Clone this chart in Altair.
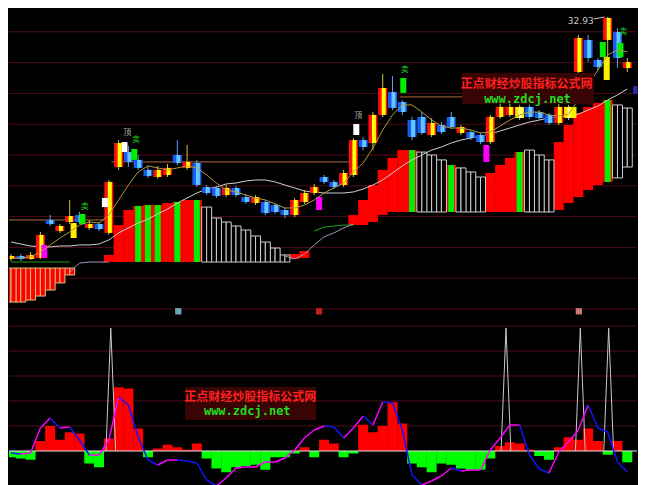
import altair as alt
import pandas as pd

N = 64
bars = list(range(N))

# ---------- top panel: candles (price) ----------
open_ = [17.25,17.44,17.25,17.31,19.78,19.06,19.65,20.10,19.26,19.52,
         18.94,23.22,24.19,23.68,23.03,22.57,22.70,24.00,23.16,23.48,
         21.92,21.86,21.40,21.86,21.27,20.88,20.95,20.75,20.43,20.10,
         20.95,21.53,22.57,22.25,22.05,22.70,24.97,24.78,26.60,28.09,
         27.44,26.27,26.47,25.30,25.95,26.47,25.43,25.49,25.30,24.84,
         26.47,26.60,27.12,27.12,26.79,26.60,26.08,27.12,29.39,31.47,
         30.17,31.47,31.99,29.65]
close_ = [17.44,17.25,17.51,18.81,19.52,19.39,20.04,19.65,19.52,19.19,
          22.25,24.78,23.55,23.16,22.64,23.03,23.16,23.48,23.55,22.05,
          21.53,21.34,21.86,21.40,20.95,21.27,20.23,20.30,20.10,21.08,
          21.53,21.92,22.25,21.92,22.83,24.97,24.52,26.60,28.35,27.05,
          26.79,25.17,25.43,26.08,25.49,25.82,25.82,25.10,24.84,26.47,
          27.12,27.12,26.40,26.47,26.40,26.08,27.12,26.40,31.60,30.30,
          29.71,32.90,30.30,30.04]
high_ = [17.57,17.57,17.70,19.00,20.10,19.52,21.08,20.30,19.78,19.65,
         22.38,24.97,24.60,24.00,23.29,23.29,23.42,24.97,24.65,23.68,
         22.05,21.99,22.05,21.99,21.47,21.40,21.08,20.88,20.56,21.21,
         21.73,22.12,22.70,22.38,23.03,25.10,25.17,26.79,29.26,29.13,
         27.57,26.47,26.79,26.40,26.14,26.79,25.95,25.62,25.43,26.60,
         27.31,27.31,27.25,27.25,26.92,26.73,27.31,27.25,31.79,31.79,
         30.30,32.96,32.25,30.30]
low_ = [17.12,17.12,17.18,17.25,19.39,18.94,19.52,19.52,19.13,19.06,
        18.81,23.03,23.22,23.03,22.51,22.45,22.57,23.35,23.03,21.92,
        21.40,21.21,21.27,21.27,20.82,20.75,20.10,20.17,19.91,19.97,
        20.82,21.40,22.12,21.79,21.92,22.57,24.32,24.32,26.47,26.92,
        26.60,24.97,25.30,25.17,25.36,25.69,25.30,24.97,24.71,24.71,
        26.34,26.47,26.27,26.34,26.27,25.95,25.95,26.27,29.26,30.04,
        29.52,30.30,29.65,29.39]
kind = ["u","d","u","u","d","u","u","d","u","d",
        "u","u","d","d","d","u","u","d","u","d",
        "d","d","u","d","d","u","d","d","d","u",
        "u","u","d","d","u","u","d","u","u","d",
        "d","d","d","u","d","d","u","d","d","u",
        "u","u","y","d","d","d","u","y","u","d",
        "d","u","d","u"]

# special marker candles: bar position, top, bottom, colour
spec_b = [3.4, 6.4, 7.3, 9.6, 11.6, 12.6, 31.5, 35.3, 40.1, 48.6, 57.5, 60.5, 60.9, 62.3]
spec_top = [18.16, 19.58, 20.17, 21.21, 24.84, 24.39, 21.27, 26.01, 29.00, 24.65, 27.12, 31.34, 30.36, 31.27]
spec_bot = [17.31, 18.61, 19.52, 20.62, 24.19, 23.68, 20.43, 25.30, 28.03, 23.55, 26.40, 30.36, 28.87, 30.36]
spec_col = ["#ff00ff", "#ffee00", "#00ee00", "#ffffff", "#ffffff", "#00ee00", "#ff00ff",
            "#ffffff", "#00ee00", "#ff00ff", "#ffee00", "#00ee00", "#ffee00", "#00ee00"]

ma_long = [18.35,18.22,18.09,18.03,18.03,18.09,18.09,18.16,18.16,18.22,
           18.48,18.94,19.26,19.58,19.84,20.17,20.49,20.88,21.21,21.53,
           21.79,21.92,22.12,22.18,22.31,22.38,22.38,22.25,22.05,21.86,
           21.66,21.60,21.53,21.53,21.53,21.60,21.79,22.05,22.38,22.83,
           23.29,23.68,24.00,24.32,24.52,24.78,24.97,25.10,25.23,25.36,
           25.56,25.75,25.95,26.14,26.27,26.40,26.47,26.53,26.66,26.92,
           27.18,27.57,27.90,28.29]
ma_short = [17.31,17.31,17.38,17.70,18.16,18.61,19.00,19.45,19.65,19.58,
            20.10,21.08,22.05,22.90,23.29,23.16,23.03,23.16,23.29,23.16,
            22.70,22.18,21.73,21.60,21.40,21.21,21.08,20.82,20.56,20.56,
            20.75,21.08,21.53,21.86,22.18,22.90,23.48,24.45,25.62,26.60,
            27.25,27.25,26.79,26.27,25.88,25.75,25.75,25.62,25.43,25.49,
            25.88,26.27,26.60,26.79,26.79,26.60,26.53,26.66,27.57,28.55,
            29.52,30.49,30.82,30.69]

# stepped band (bars between two levels)
band_top = [16.66,16.66,16.66,16.66,16.66,16.66,16.66,None,None,None,
            17.51,19.45,20.43,20.69,20.75,20.75,20.88,20.95,21.08,21.08,
            20.62,19.91,19.65,19.39,19.13,18.74,18.35,17.96,17.51,17.57,
            17.77,None,None,None,None,20.10,21.08,22.05,23.03,23.81,
            24.32,24.32,24.19,24.00,23.68,23.35,23.16,22.90,22.57,22.83,
            23.35,23.81,24.19,24.32,24.00,23.68,24.84,25.95,26.73,27.12,
            27.38,27.57,27.25,27.05]
band_bot = [14.45,14.45,14.58,14.84,15.23,15.69,16.21,None,None,None,
            17.05,17.05,17.05,17.05,17.05,17.05,17.05,17.05,17.05,17.05,
            17.05,17.05,17.05,17.05,17.05,17.05,17.05,17.05,17.05,17.25,
            17.31,None,None,None,None,19.45,19.45,19.65,20.10,20.30,
            20.30,20.30,20.30,20.30,20.30,20.30,20.30,20.30,20.30,20.30,
            20.30,20.30,20.30,20.30,20.30,20.30,20.43,20.88,21.27,21.73,
            22.05,22.25,22.51,23.22]
band_cls = ["A","A","A","A","A","A","A",None,None,None,
            "R","R","R","G","G","G","R","G","R","G",
            "W","W","W","W","W","W","W","W","W","R",
            "R",None,None,None,None,"R","R","R","R","R",
            "R","G","W","W","W","G","W","W","W","R",
            "R","R","G","W","W","W","R","R","R","R",
            "R","G","W","W"]
edge_green = [17.05,17.05,17.05,17.05,17.05,17.05,17.05,None,None,None,
              None,None,None,None,None,None,None,None,None,None,
              None,None,None,None,None,None,None,None,None,None,
              None,19.06,19.32,19.39,19.45,19.45] + [None] * 28
edge_gray = [None,None,None,None,None,None,16.40,16.98,17.05,17.05,
             17.05,None,None,None,None,None,None,None,None,None,
             None,None,None,None,None,None,None,None,17.44,17.25,
             17.57,18.16,18.68,18.94,19.26,19.52] + [None] * 28

support_p = [19.78, 23.55, 27.77]
support_from = [-0.5, 10.26, 39.74]
support_to = [9.56, 34.71, 46.28]

# small status icons at the foot of the price panel
icon_b = [17.1, 31.5, 58.05]
icon_p = [13.85, 13.85, 13.85]
icon_col = ["#6aa8b0", "#c02020", "#c07878"]

price_ticks = list(range(14, 34))
price_grid = [14, 16, 18, 20, 22, 24, 26, 28, 30, 32]

# ---------- bottom panel ----------
hist = [-5,-6,-7,8,20,9,15,14,-10,-13,
        10,51,50,18,-5,2,5,3,1,6,
        -6,-14,-17,-13,-12,-11,-15,-5,-5,-2,
        3,-5,9,6,-5,-2,21,15,20,39,
        22,-10,-13,-17,-10,-11,-14,-15,-15,-6,
        4,7,6,1,-4,-7,3,11,9,18,
        8,-3,8,-9]
osc = [-1.6,-2.4,-1.6,18.4,26.4,18.4,19.2,8.8,-3.2,-3.2,
       8.8,43.2,36.8,11.2,-7.2,-11.2,-7.2,-7.2,-8,-9.6,
       -23.2,-28,-21.6,-13.6,-12.8,-12.8,-8.8,-8.8,-5.6,0.8,
       10.4,16.8,20,19.2,10.4,18.4,28,20.8,39.2,38.4,
       16.8,-19.2,-27.2,-24,-20,-13.6,-16,-15.2,-15.2,0.8,
       10.4,20.8,20.8,-3.2,-14.4,-17.6,-0.8,7.2,16.8,36.8,
       18.4,15.2,-8.8,-16.8]
spike_pos = [10.2, 50.6, 58.2, 61.1]
spike_peak = [98.4, 98.4, 98.4, 98.4]
osc_ticks = [0, 20, 40, 60, 80, 100]
osc_grid = [20, 40, 60, 80, 100]

WM_CN = "正点财经炒股指标公式网"
WM_URL = "www.zdcj.net"

# ---------- scales ----------
X_DOM = [0.305, 63.484]
P_DOM = [13.545, 33.545]
V_DOM = [-27.2, 107.2]
W, TOP_H, BOT_H = 628, 308, 168
RED_AX = "#d00000"
GRID = "#4e0e14"

xsc = alt.Scale(domain=X_DOM, nice=False, zero=False)
psc = alt.Scale(domain=P_DOM, nice=False, zero=False)
vsc = alt.Scale(domain=V_DOM, nice=False, zero=False)


def X(f):
    return alt.X(f, scale=xsc, axis=None)


def P(f):
    return alt.Y(f, scale=psc, axis=None)


def V(f):
    return alt.Y(f, scale=vsc, axis=None)


def C(f):
    return alt.Color(f, scale=None)


right_axis_top = alt.Axis(orient="right", values=price_ticks, title=None, grid=False, labels=False,
                          domainColor=RED_AX, tickColor=RED_AX, tickSize=3)
right_axis_bot = alt.Axis(orient="right", values=osc_ticks, title=None, grid=False, labels=False,
                          domainColor=RED_AX, tickColor=RED_AX, tickSize=3)

# ---------- top panel layers ----------
grid_top = alt.Chart(pd.DataFrame({"p": price_grid})).mark_rule(color=GRID, strokeWidth=1).encode(
    y=alt.Y("p:Q", scale=psc, axis=right_axis_top))

band = pd.DataFrame({"i": bars, "t": band_top, "b": band_bot, "k": band_cls}).dropna()
band_red = alt.Chart(band[band.k.isin(["R", "G"])]).mark_bar(width=10, color="#ff0000", clip=True).encode(
    x=alt.X("i:Q", scale=xsc,
            axis=alt.Axis(orient="bottom", labels=False, ticks=False, grid=False, title=None,
                          domainColor=RED_AX)),
    y=P("t:Q"), y2="b:Q")
band_g = alt.Chart(band[band.k == "G"]).mark_bar(width=6, color="#00ee00", clip=True).encode(
    x=X("i:Q"), y=P("t:Q"), y2="b:Q")

sub_layers = []
for off in (-2.5, 2.5):
    sub_layers.append(
        alt.Chart(band[band.k == "A"]).mark_bar(width=5, xOffset=off, color="#ff0000", stroke="#d8c27a",
                                                strokeWidth=1, clip=True).encode(
            x=X("i:Q"), y=P("t:Q"), y2="b:Q"))
    sub_layers.append(
        alt.Chart(band[band.k == "W"]).mark_bar(width=5, xOffset=off, fill="#000000", stroke="#d0d0d0",
                                                strokeWidth=1, clip=True).encode(
            x=X("i:Q"), y=P("t:Q"), y2="b:Q"))


def runs(vals, name, col):
    rows = []
    seg = 0
    prev = False
    for i, v in enumerate(vals):
        if v is None:
            if prev:
                seg += 1
            prev = False
            continue
        rows.append({"i": i, "p": v, "g": f"{name}{seg}", "col": col})
        prev = True
    return rows


edges = pd.DataFrame(runs(edge_green, "green", "#1fa01f") + runs(edge_gray, "gray", "#9a9ab8"))
edge_lines = alt.Chart(edges).mark_line(strokeWidth=1, clip=True).encode(
    x=X("i:Q"), y=P("p:Q"), detail="g:N", color=C("col:N"))

sup = pd.DataFrame({"p": support_p, "a": support_from, "b": support_to})
support = alt.Chart(sup).mark_rule(color="#b0683a", strokeWidth=1, clip=True).encode(
    x=X("a:Q"), x2="b:Q", y=P("p:Q"))

OUTER = {"u": "#ff1010", "d": "#1a5af0", "y": "#ffe000"}
INNER = {"u": "#ffff00", "d": "#62c6ff", "y": "#ffff80"}
WICK = {"u": "#d8c040", "d": "#5a9cff", "y": "#d8c040"}
cd = pd.DataFrame({"i": bars, "o": open_, "c": close_, "h": high_, "l": low_,
                   "ma": ma_long, "ms": ma_short})
cd["oc"] = [OUTER[k] for k in kind]
cd["ic"] = [INNER[k] for k in kind]
cd["wc"] = [WICK[k] for k in kind]

ma_line = alt.Chart(cd).mark_line(color="#d0d0d0", strokeWidth=1, clip=True).encode(x=X("i:Q"), y=P("ma:Q"))
ms_line = alt.Chart(cd).mark_line(color="#b09a3c", strokeWidth=1, clip=True).encode(x=X("i:Q"), y=P("ms:Q"))

wick = alt.Chart(cd).mark_rule(strokeWidth=1, clip=True).encode(
    x=X("i:Q"), y=P("l:Q"), y2="h:Q", color=C("wc:N"))
body = alt.Chart(cd).mark_bar(width=9, clip=True).encode(
    x=X("i:Q"), y=P("o:Q"), y2="c:Q", color=C("oc:N"))
inner = alt.Chart(cd).mark_bar(width=4, xOffset=1, clip=True).encode(
    x=X("i:Q"), y=P("o:Q"), y2="c:Q", color=C("ic:N"))

sp = pd.DataFrame({"b": spec_b, "t": spec_top, "d": spec_bot, "col": spec_col})
specials = alt.Chart(sp).mark_bar(width=6, clip=True).encode(
    x=X("b:Q"), y=P("t:Q"), y2="d:Q", color=C("col:N"))

icons = alt.Chart(pd.DataFrame({"b": icon_b, "p": icon_p, "col": icon_col})).mark_square(
    size=40, opacity=1, clip=True).encode(x=X("b:Q"), y=P("p:Q"), color=C("col:N"))

marks_txt = pd.DataFrame({
    "b": [11.87, 7.55, 12.78, 35.5, 40.24, 62.6],
    "p": [25.43, 20.62, 24.97, 26.53, 29.52, 31.99],
    "t": ["顶", "卖", "卖", "顶", "卖", "卖"],
    "col": ["#bbbbbb", "#22cc22", "#22cc22", "#bbbbbb", "#22cc22", "#22cc22"]})
small_txt = alt.Chart(marks_txt).mark_text(font="Noto Sans CJK SC", fontSize=8).encode(
    x=X("b:Q"), y=P("p:Q"), text="t:N", color=C("col:N"))

hi_lbl = alt.Chart(pd.DataFrame({"b": [59.56], "p": [32.70], "t": ["32.93"]})).mark_text(
    align="right", fontSize=9, color="#c8c8c8", font="DejaVu Sans").encode(x=X("b:Q"), y=P("p:Q"), text="t:N")
hi_lead = alt.Chart(pd.DataFrame({"a": [59.6], "b": [60.67], "p1": [32.83], "p2": [32.96]})).mark_rule(
    color="#c8c8c8", strokeWidth=1).encode(x=X("a:Q"), x2="b:Q", y=P("p1:Q"), y2="p2:Q")

last_box = alt.Chart(pd.DataFrame({"a": [63.58], "b": [64.05], "p1": [27.96], "p2": [28.48]})).mark_rect(
    color="#2a2aa8").encode(x=X("a:Q"), x2="b:Q", y=P("p1:Q"), y2="p2:Q")

wm_box_top = alt.Chart(pd.DataFrame({"a": [46.1], "b": [59.6], "p1": [27.31], "p2": [29.32]})).mark_rect(
    color="#380404").encode(x=X("a:Q"), x2="b:Q", y=P("p1:Q"), y2="p2:Q")
wm_cn_top = alt.Chart(pd.DataFrame({"b": [52.7], "p": [28.61], "t": [WM_CN]})).mark_text(
    font="Noto Sans CJK SC", fontSize=12, fontWeight="bold", color="#ff2020").encode(
    x=X("b:Q"), y=P("p:Q"), text="t:N")
wm_url_top = alt.Chart(pd.DataFrame({"b": [52.8], "p": [27.64], "t": [WM_URL]})).mark_text(
    font="DejaVu Sans Mono", fontSize=12, fontWeight="bold", color="#22dd22").encode(
    x=X("b:Q"), y=P("p:Q"), text="t:N")

top = alt.layer(grid_top, band_red, band_g, *sub_layers, edge_lines, support, ma_line,
                wick, body, inner, specials, ms_line, small_txt, hi_lead, hi_lbl, icons,
                wm_box_top, wm_cn_top, wm_url_top, last_box).properties(width=W, height=TOP_H)

# ---------- bottom panel layers ----------
grid_bot = alt.Chart(pd.DataFrame({"v": osc_grid})).mark_rule(color=GRID, strokeWidth=1).encode(
    y=alt.Y("v:Q", scale=vsc, axis=right_axis_bot))

hd = pd.DataFrame({"i": bars, "h": hist})
hd["col"] = ["#ff0000" if v >= 0 else "#00ff00" for v in hist]
hd["z"] = 0
hist_bars = alt.Chart(hd).mark_bar(width=10, clip=True).encode(
    x=X("i:Q"), y=V("h:Q"), y2="z:Q", color=C("col:N"))

zero_line = alt.Chart(pd.DataFrame({"v": [0]})).mark_rule(color="#e6e6e6", strokeWidth=1).encode(y=V("v:Q"))

seg_rows = []
for i in range(N - 1):
    col = "#ff00ff" if osc[i + 1] >= osc[i] else "#1414ff"
    seg_rows.append({"i": i, "v": osc[i], "g": i, "col": col})
    seg_rows.append({"i": i + 1, "v": osc[i + 1], "g": i, "col": col})
osc_line = alt.Chart(pd.DataFrame(seg_rows)).mark_line(strokeWidth=1.5, clip=True).encode(
    x=X("i:Q"), y=V("v:Q"), detail="g:N", color=C("col:N"))

sk_rows = []
for k, (pos, pk) in enumerate(zip(spike_pos, spike_peak)):
    sk_rows += [{"i": pos - 0.5, "v": 0, "g": k}, {"i": pos, "v": pk, "g": k}, {"i": pos + 0.5, "v": 0, "g": k}]
spikes = alt.Chart(pd.DataFrame(sk_rows)).mark_line(color="#c8c8c8", strokeWidth=1, clip=True).encode(
    x=X("i:Q"), y=V("v:Q"), detail="g:N")

wm_box_bot = alt.Chart(pd.DataFrame({"a": [17.8], "b": [31.2], "v1": [24.8], "v2": [51.2]})).mark_rect(
    color="#380404").encode(x=X("a:Q"), x2="b:Q", y=V("v1:Q"), y2="v2:Q")
wm_cn_bot = alt.Chart(pd.DataFrame({"b": [24.45], "v": [43.2], "t": [WM_CN]})).mark_text(
    font="Noto Sans CJK SC", fontSize=12, fontWeight="bold", color="#ff2020").encode(
    x=X("b:Q"), y=V("v:Q"), text="t:N")
wm_url_bot = alt.Chart(pd.DataFrame({"b": [24.15], "v": [32.0], "t": [WM_URL]})).mark_text(
    font="DejaVu Sans Mono", fontSize=12, fontWeight="bold", color="#22dd22").encode(
    x=X("b:Q"), y=V("v:Q"), text="t:N")

bottom = alt.layer(grid_bot, hist_bars, zero_line, spikes, osc_line,
                   wm_box_bot, wm_cn_bot, wm_url_bot).properties(width=W, height=BOT_H)

chart = alt.vconcat(top, bottom, spacing=1, bounds="flush").properties(padding=0).configure(
    background="#000000").configure_view(strokeWidth=0)

chart.save("out.html", embed_options={"renderer": "svg", "actions": False})
